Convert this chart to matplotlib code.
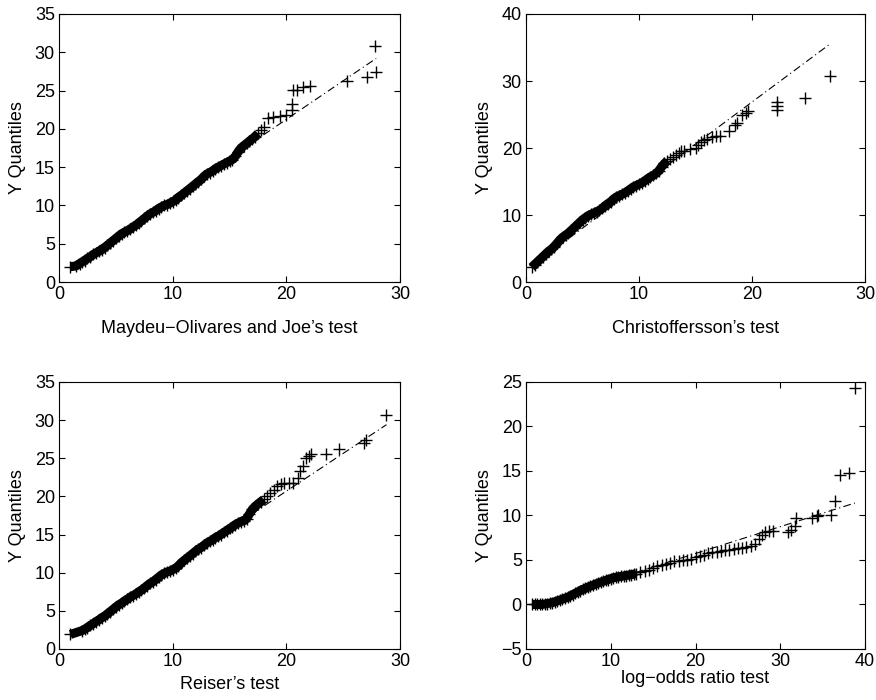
import matplotlib
matplotlib.use("Agg")
import matplotlib.pyplot as plt

plt.rcParams['font.family'] = ['Liberation Sans', 'DejaVu Sans']
plt.rcParams['font.size'] = 13

# Maydeu-Olivares and Joe's test
mo_x = [1.0, 1.5, 1.8, 2.0, 2.25, 2.5, 2.75, 3.0, 3.25, 3.5, 3.75, 4.0, 4.25, 4.5, 4.75,
        5.0, 5.25, 5.5, 5.75, 6.0, 6.25, 6.5, 6.75, 7.0, 7.25, 7.5, 7.75, 8.0, 8.25, 8.5,
        8.75, 9.0, 9.25, 9.5, 9.75, 10.0, 10.25, 10.5, 10.75, 11.0, 11.25, 11.5, 11.75,
        12.0, 12.25, 12.5, 12.75, 13.0, 13.25, 13.5, 13.75, 14.0, 14.25, 14.5, 14.75,
        15.0, 15.25, 15.5, 15.75, 16.0, 16.25, 16.5, 16.75, 17.0, 17.25, 17.5, 17.75,
        18.0, 18.4, 18.85, 19.4, 20.0, 20.5, 20.5, 20.6, 20.9, 21.5, 22.1, 25.3, 27.1,
        27.9, 27.8]
mo_y = [2.0, 2.1, 2.4, 2.6, 2.8, 3.1, 3.3, 3.6, 3.8, 4.0, 4.2, 4.5, 4.8, 5.1, 5.4,
        5.7, 6.0, 6.3, 6.5, 6.7, 6.9, 7.2, 7.4, 7.7, 8.0, 8.3, 8.6, 8.9, 9.1, 9.3,
        9.6, 9.8, 10.0, 10.1, 10.3, 10.5, 10.7, 11.0, 11.3, 11.6, 11.9, 12.2, 12.5,
        12.8, 13.1, 13.4, 13.8, 14.1, 14.3, 14.5, 14.8, 15.0, 15.2, 15.4, 15.6,
        15.8, 16.0, 16.4, 17.0, 17.5, 17.8, 18.1, 18.4, 18.7, 19.0, 19.4, 19.8,
        20.2, 21.4, 21.6, 21.7, 21.8, 22.5, 23.3, 25.1, 25.1, 25.5, 25.6, 26.2, 26.8,
        27.4, 30.8]
mo_line_x = [1.0, 27.9]
mo_line_y = [2.1, 29.2]
mo_solid_until = 17.5   # where the markers merge into one band

# Christoffersson's test
ch_x = [0.5, 0.75, 1.0, 1.25, 1.5, 1.75, 2.0, 2.25, 2.5, 2.75, 3.0, 3.25, 3.5, 3.75,
        4.0, 4.25, 4.5, 4.75, 5.0, 5.25, 5.5, 5.75, 6.0, 6.25, 6.5, 6.75, 7.0, 7.25,
        7.5, 7.75, 8.0, 8.25, 8.5, 8.75, 9.0, 9.25, 9.5, 9.75, 10.0, 10.25, 10.5,
        10.75, 11.0, 11.25, 11.5, 11.75, 12.0, 12.25, 12.5, 12.75, 13.0, 13.25, 13.5,
        13.75, 14.0, 14.5, 15.0, 15.25, 15.5, 15.75, 16.0, 16.5, 16.8, 17.2,
        18.0, 18.5, 18.7, 19.1, 19.5, 19.6, 22.2, 22.2, 22.2, 24.7, 26.9]
ch_y = [2.2, 2.6, 3.0, 3.4, 3.8, 4.2, 4.6, 4.9, 5.3, 5.8, 6.3, 6.7, 7.0, 7.3,
        7.7, 8.1, 8.5, 8.9, 9.3, 9.6, 9.9, 10.1, 10.3, 10.5, 10.7, 11.0, 11.4, 11.7,
        12.0, 12.4, 12.7, 12.9, 13.1, 13.3, 13.6, 13.9, 14.2, 14.4, 14.6, 14.8, 15.1,
        15.4, 15.7, 15.9, 16.2, 16.6, 17.2, 17.7, 18.1, 18.4, 18.7, 19.0, 19.3,
        19.5, 19.6, 19.8, 20.0, 20.4, 20.9, 21.2, 21.4, 21.6, 21.8, 21.8,
        22.5, 23.4, 23.8, 25.0, 25.3, 25.5, 25.6, 26.3, 26.9, 27.4, 30.8]
ch_line_x = [0.5, 26.8]
ch_line_y = [2.4, 35.4]
ch_solid_until = 12.5

# Reiser's test
re_x = [1.0, 2.0, 2.25, 2.5, 2.75, 3.0, 3.25, 3.5, 3.75, 4.0, 4.25, 4.5, 4.75, 5.0,
        5.25, 5.5, 5.75, 6.0, 6.25, 6.5, 6.75, 7.0, 7.25, 7.5, 7.75, 8.0, 8.25, 8.5,
        8.75, 9.0, 9.25, 9.5, 9.75, 10.0, 10.25, 10.5, 10.75, 11.0, 11.25, 11.5,
        11.75, 12.0, 12.25, 12.5, 12.75, 13.0, 13.25, 13.5, 13.75, 14.0, 14.25, 14.5,
        14.75, 15.0, 15.25, 15.5, 15.75, 16.0, 16.25, 16.5, 16.75, 17.0, 17.25, 17.5,
        17.75, 18.0, 18.3, 18.6, 18.9, 19.2, 19.5, 19.8, 20.2, 20.6, 21.0, 21.2, 21.5,
        21.7, 22.0, 22.2, 23.5, 24.6, 26.8, 27.0, 28.8]
re_y = [1.9, 2.4, 2.6, 2.8, 3.1, 3.3, 3.6, 3.8, 4.1, 4.3, 4.6, 4.9, 5.2, 5.5,
        5.8, 6.0, 6.3, 6.5, 6.8, 7.0, 7.2, 7.5, 7.7, 8.0, 8.3, 8.6, 8.8, 9.1,
        9.4, 9.7, 9.9, 10.1, 10.2, 10.4, 10.6, 10.9, 11.3, 11.6, 11.9, 12.2,
        12.5, 12.8, 13.1, 13.3, 13.6, 13.9, 14.1, 14.3, 14.6, 14.8, 15.0, 15.3,
        15.5, 15.8, 16.0, 16.3, 16.5, 16.7, 16.8, 17.1, 17.7, 18.3, 18.7, 19.0,
        19.3, 19.6, 20.0, 20.4, 20.9, 21.3, 21.6, 21.8, 21.8, 21.8, 22.4, 23.3, 24.0,
        25.0, 25.3, 25.6, 25.6, 26.2, 27.0, 27.4, 30.7]
re_line_x = [1.0, 28.8]
re_line_y = [1.9, 29.4]
re_solid_until = 18.0

# log-odds ratio test
lo_x = [0.7, 1.0, 1.3, 1.6, 1.9, 2.2, 2.5, 2.8, 3.1, 3.4, 3.7, 4.0, 4.3, 4.6, 4.9,
        5.2, 5.5, 5.8, 6.1, 6.4, 6.7, 7.0, 7.3, 7.6, 7.9, 8.2, 8.5, 8.8, 9.1, 9.4,
        9.7, 10.0, 10.3, 10.6, 10.9, 11.2, 11.5, 11.8, 12.1, 12.4, 12.7, 13.0, 13.5,
        14.0, 14.5, 15.0, 15.5, 16.0, 16.5, 17.0, 17.5, 18.0, 18.5, 19.0, 19.5, 20.0,
        20.5, 21.0, 21.5, 22.0, 22.5, 23.0, 23.5, 24.0, 24.5, 25.0, 25.5, 26.0, 26.5,
        27.0, 27.5, 27.8, 28.2, 28.7, 29.1, 30.9, 31.3, 31.7, 31.9, 33.7, 34.3, 34.5,
        36.0, 36.5, 37.0, 38.1, 38.8]
lo_y = [0.0, 0.0, 0.0, 0.0, 0.0, 0.05, 0.1, 0.15, 0.2, 0.3, 0.4, 0.5, 0.6, 0.7, 0.8,
        0.95, 1.1, 1.25, 1.4, 1.55, 1.7, 1.8, 1.95, 2.05, 2.15, 2.3, 2.4, 2.5, 2.6, 2.7,
        2.8, 2.9, 3.0, 3.05, 3.1, 3.15, 3.2, 3.25, 3.3, 3.35, 3.4, 3.45, 3.6,
        3.75, 3.9, 4.1, 4.3, 4.45, 4.6, 4.7, 4.85, 4.9, 4.95, 5.0, 5.1, 5.3,
        5.5, 5.6, 5.75, 5.85, 5.95, 6.05, 6.1, 6.15, 6.25, 6.3, 6.35, 6.45, 6.55,
        6.8, 7.4, 7.8, 8.1, 8.2, 8.2, 8.15, 8.4, 8.8, 9.7, 9.7, 9.9, 10.0,
        10.1, 11.6, 14.5, 14.8, 24.3]
lo_line_x = [0.7, 38.8]
lo_line_y = [-0.1, 11.4]
lo_solid_until = 13.0

panels = [
    (mo_x, mo_y, mo_line_x, mo_line_y, mo_solid_until, 'Maydeu\u2212Olivares and Joe\u2019s test',
     (0, 30), (0, 35), range(0, 31, 10), range(0, 36, 5),
     [0.0674, 0.5971, 0.3893, 0.3829], 12),
    (ch_x, ch_y, ch_line_x, ch_line_y, ch_solid_until, 'Christoffersson\u2019s test',
     (0, 30), (0, 40), range(0, 31, 10), range(0, 41, 10),
     [0.6005, 0.5971, 0.3870, 0.3829], 12),
    (re_x, re_y, re_line_x, re_line_y, re_solid_until, 'Reiser\u2019s test',
     (0, 30), (0, 35), range(0, 31, 10), range(0, 36, 5),
     [0.0674, 0.0729, 0.3893, 0.3814], 4),
    (lo_x, lo_y, lo_line_x, lo_line_y, lo_solid_until, 'log\u2212odds ratio test',
     (0, 40), (-5, 25), range(0, 41, 10), range(-5, 26, 5),
     [0.6005, 0.0729, 0.3870, 0.3814], 0),
]

fig = plt.figure(figsize=(8.76, 7.0), dpi=100)

for xs, ys, lx, ly, solid, label, xlim, ylim, xt, yt, pos, pad in panels:
    ax = fig.add_axes(pos)
    ax.plot(lx, ly, color='black', lw=0.8, linestyle=(0, (7, 3, 1, 3)))
    # the overlapping crosses fuse into a solid band where the quantiles are dense
    bx = [x for x in xs if x <= solid]
    by = ys[:len(bx)]
    ax.plot(bx, by, color='black', lw=6.5, solid_capstyle='butt', solid_joinstyle='round')
    ax.plot(xs, ys, linestyle='none', marker='+', color='black',
            markersize=8.5, markeredgewidth=1.0)
    ax.set_xlim(*xlim)
    ax.set_ylim(*ylim)
    ax.set_xticks(list(xt))
    ax.set_yticks(list(yt))
    ax.tick_params(direction='in', length=4, width=0.8, top=True, right=True,
                   labelsize=13, pad=3)
    for s in ax.spines.values():
        s.set_linewidth(0.8)
    ax.set_xlabel(label, fontsize=13, labelpad=pad)
    ax.set_ylabel('Y Quantiles', fontsize=13, labelpad=6)

fig.savefig('out.png', dpi=100)
